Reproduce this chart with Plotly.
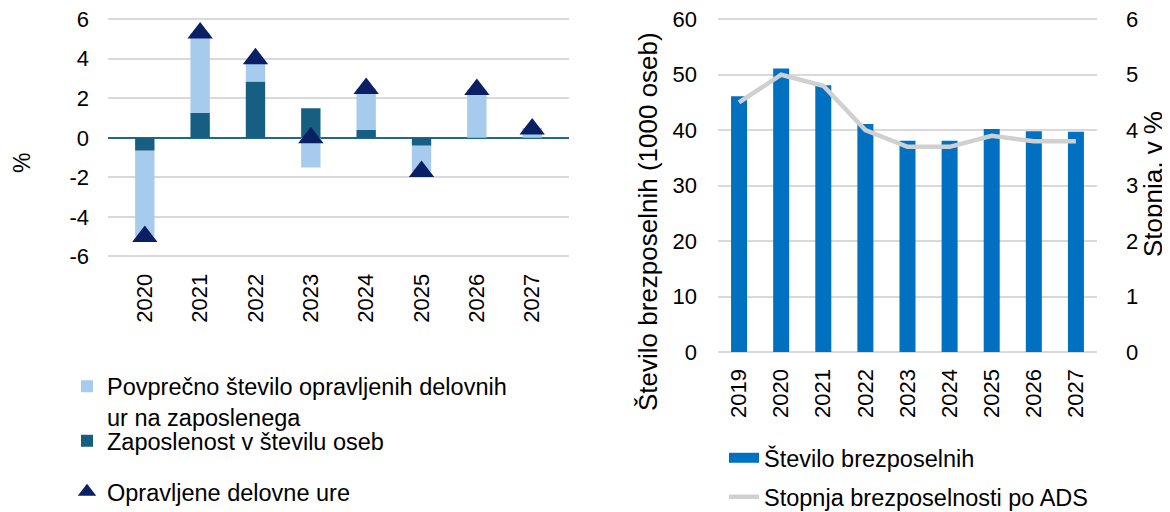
import plotly.graph_objects as go

# ---------------- data ----------------
years_left = ["2020", "2021", "2022", "2023", "2024", "2025", "2026", "2027"]
hours_per_employee = [-4.35, 4.05, 1.1, -1.5, 2.1, -1.3, 2.45, 0.5]
employment_persons = [-0.65, 1.25, 2.85, 1.5, 0.4, -0.4, 0.0, 0.0]
hours_worked = [-5.0, 5.3, 4.0, 0.0, 2.5, -1.7, 2.45, 0.45]
left_tick_values = [-6, -4, -2, 0, 2, 4, 6]
left_tick_labels = ["-6", "-4", "-2", "0", "2", "4", "6"]

years_right = ["2019", "2020", "2021", "2022", "2023", "2024", "2025", "2026", "2027"]
unemployed_thousands = [46.1, 51.1, 48.1, 41.1, 38.1, 38.1, 40.2, 39.8, 39.7]
unemployment_rate_ilo = [4.5, 5.0, 4.8, 4.0, 3.7, 3.7, 3.9, 3.8, 3.8]

# ---------------- style ----------------
FONT = "Liberation Sans, Arial, sans-serif"
OFF = 8                      # page body margin of the browser
W, H = 1170 - OFF, 512 - OFF
LIGHT = "#A7CBEC"
DARK = "#175F82"
NAVY = "#0B1F65"
BLUE = "#0070C0"
GREY_LINE = "#D0D0D0"
GRID = "#D9D9D9"


def px_x(p):
    """screen pixel -> paper x"""
    return (p - OFF) / W


def px_y(p):
    """screen pixel -> paper y"""
    return 1 - (p - OFF) / H


fig = go.Figure()

# left chart
fig.add_trace(go.Bar(
    x=years_left, y=employment_persons, name="Zaposlenost v številu oseb",
    marker=dict(color=DARK, line=dict(width=0)), width=0.35,
    xaxis="x", yaxis="y", legend="legend3",
))
fig.add_trace(go.Bar(
    x=years_left, y=hours_per_employee,
    name="Povprečno število opravljenih delovnih<br>ur na zaposlenega",
    marker=dict(color=LIGHT, line=dict(width=0)), width=0.35,
    xaxis="x", yaxis="y", legend="legend",
))
fig.add_trace(go.Scatter(
    x=years_left, y=hours_worked, name="Opravljene delovne ure", mode="markers",
    marker=dict(symbol="triangle-up", size=22, color=NAVY, line=dict(width=0)),
    xaxis="x", yaxis="y", legend="legend4",
))

# right chart
fig.add_trace(go.Bar(
    x=years_right, y=unemployed_thousands, name="Število brezposelnih",
    marker=dict(color=BLUE, line=dict(width=0)), width=0.38,
    xaxis="x2", yaxis="y2", showlegend=False,
))
# legend key for the bars (wide rectangle like the original)
fig.add_trace(go.Scatter(
    x=[None], y=[None], name="Število brezposelnih", mode="lines",
    line=dict(color=BLUE, width=13), xaxis="x2", yaxis="y2",
    legend="legend2", hoverinfo="skip",
))
fig.add_trace(go.Scatter(
    x=years_right, y=unemployment_rate_ilo, name="Stopnja brezposelnosti po ADS",
    mode="lines", line=dict(color=GREY_LINE, width=4.5),
    xaxis="x2", yaxis="y3", legend="legend5",
))

tick_font = dict(family=FONT, size=22, color="#000000")
legend_font = dict(family=FONT, size=23.5, color="#000000")


def legend_at(x_text_px, y_center_px, valign="middle"):
    return dict(
        x=px_x(x_text_px - 41), y=px_y(y_center_px), xanchor="left",
        yanchor="middle", font=legend_font, bgcolor="rgba(0,0,0,0)",
        valign=valign, itemclick=False, itemdoubleclick=False,
    )


fig.update_layout(
    width=W, height=H,
    margin=dict(l=0, r=0, t=0, b=0, autoexpand=False),
    paper_bgcolor="white", plot_bgcolor="white",
    font=dict(family=FONT, size=22, color="#000000"),
    barmode="relative",
    showlegend=True,
    xaxis=dict(
        domain=[px_x(108), px_x(569)], anchor="y", type="category",
        tickangle=-90, tickfont=tick_font, showgrid=False, ticks="",
        showline=False, zeroline=False, ticklabelstandoff=10, automargin=False,
        ticklabeloverflow="allow",
    ),
    yaxis=dict(
        domain=[px_y(258.3), px_y(17.3)], anchor="x", range=[-6.1, 6.1],
        tickmode="array", tickvals=left_tick_values, ticktext=left_tick_labels,
        tickfont=tick_font, showgrid=True, gridcolor=GRID,
        gridwidth=1.5, zeroline=True, zerolinecolor="#1F6A8A", zerolinewidth=2,
        ticks="", showline=False, ticklabelstandoff=18, automargin=False,
        ticklabeloverflow="allow",
    ),
    xaxis2=dict(
        domain=[px_x(718), px_x(1097)], anchor="y2", type="category",
        tickangle=-90, tickfont=tick_font, showgrid=False, ticks="",
        showline=False, zeroline=False, ticklabelstandoff=11, automargin=False,
        ticklabeloverflow="allow",
    ),
    yaxis2=dict(
        domain=[px_y(352.55), px_y(17.6)], anchor="x2", range=[-0.1, 60.3],
        dtick=10, tick0=0, tickfont=tick_font, showgrid=True, gridcolor=GRID,
        gridwidth=1.5, zeroline=True, zerolinecolor=GRID, zerolinewidth=2,
        ticks="", showline=False, ticklabelstandoff=20, automargin=False,
        ticklabeloverflow="allow",
    ),
    yaxis3=dict(
        overlaying="y2", anchor="x2", side="right", range=[-0.01, 6.03],
        dtick=1, tick0=0, tickfont=tick_font, showgrid=False, zeroline=False,
        ticks="", showline=False, ticklabelstandoff=28, automargin=False,
        ticklabeloverflow="allow",
    ),
    legend=legend_at(108, 402, valign="top"),
    legend3=legend_at(108, 441),
    legend4=legend_at(108, 492),
    legend2=legend_at(765, 458),
    legend5=legend_at(765, 497),
    annotations=[
        dict(text="%", x=px_x(22), y=px_y(163), xref="paper", yref="paper",
             showarrow=False, textangle=-90, xanchor="center", yanchor="middle",
             font=dict(family=FONT, size=23, color="#000000")),
        dict(text="Število brezposelnih (1000 oseb)", x=px_x(648), y=px_y(221),
             xref="paper", yref="paper", showarrow=False, textangle=-90,
             xanchor="center", yanchor="middle",
             font=dict(family=FONT, size=26, color="#000000")),
        dict(text="Stopnja, v %", x=px_x(1153), y=px_y(184),
             xref="paper", yref="paper", showarrow=False, textangle=-90,
             xanchor="center", yanchor="middle",
             font=dict(family=FONT, size=26, color="#000000")),
    ],
)

fig.write_html("out.html")
